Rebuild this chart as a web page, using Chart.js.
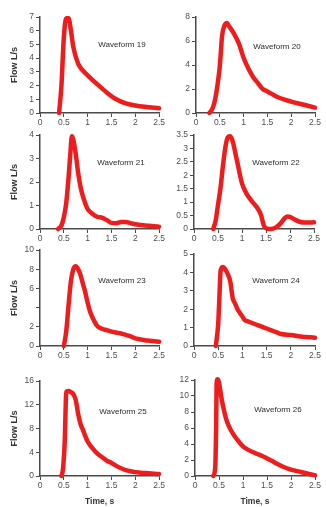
<!DOCTYPE html>
<html><head><meta charset="utf-8">
<script src="https://cdn.jsdelivr.net/npm/chart.js@4.4.1/dist/chart.umd.min.js"></script>
<style>
html,body{margin:0;padding:0;background:#fff;width:326px;height:507px;overflow:hidden;}
canvas{position:absolute;}
</style></head><body>
<script>
// ---- data ----
const xTicks = [0, 0.5, 1, 1.5, 2, 2.5];

const time19 = [0.40,0.45,0.50,0.55,0.60,0.65,0.70,0.80,0.90,1.00,1.20,1.40,1.60,1.80,2.00,2.20,2.50];
const flow19 = [0,   2.0, 5.5, 6.9, 6.9, 6.0, 4.8, 3.6, 3.1, 2.75,2.1, 1.5, 1.0, 0.7, 0.55,0.45,0.35];

const time20 = [0.28,0.35,0.40,0.45,0.50,0.55,0.60,0.65,0.70,0.80,0.90,1.00,1.10,1.20,1.30,1.40,1.50,1.70,2.00,2.20,2.50];
const flow20 = [0,   0.4, 1.1, 2.3, 3.9, 6.5, 7.3, 7.5, 7.2, 6.6, 5.8, 4.6, 3.7, 3.0, 2.5, 2.0, 1.8, 1.35,0.95,0.75,0.45];

const time21 = [0.38,0.45,0.50,0.55,0.60,0.64,0.67,0.70,0.75,0.80,0.85,0.90,1.00,1.10,1.20,1.30,1.40,1.50,1.60,1.70,1.80,1.90,2.00,2.20,2.50];
const flow21 = [0,   0.15,0.5, 1.1, 2.2, 3.3, 3.95,3.8, 3.2, 2.4, 1.8, 1.4, 0.85,0.65,0.52,0.48,0.38,0.26,0.25,0.3, 0.3, 0.25,0.2, 0.15,0.1];

const time22 = [0.40,0.45,0.50,0.55,0.60,0.65,0.70,0.75,0.80,0.90,1.00,1.10,1.20,1.30,1.35,1.40,1.45,1.50,1.60,1.70,1.80,1.90,1.95,2.00,2.10,2.20,2.30,2.50];
const flow22 = [0,   0.3, 0.9, 1.5, 2.3, 3.0, 3.4, 3.45,3.3, 2.5, 1.7, 1.3, 1.05,0.83,0.7, 0.5, 0.15,0.03,0.0, 0.05,0.2, 0.42,0.47,0.45,0.35,0.27,0.24,0.25];

const time23 = [0.50,0.55,0.60,0.65,0.70,0.75,0.80,0.85,0.90,0.95,1.00,1.05,1.10,1.20,1.30,1.40,1.50,1.60,1.70,1.80,1.90,2.00,2.10,2.20,2.30,2.50];
const flow23 = [0,   1.5, 4.3, 6.8, 8.0, 8.3, 8.0, 7.4, 6.5, 5.6, 4.5, 3.6, 3.0, 2.1, 1.8, 1.65,1.5, 1.4, 1.3, 1.15,1.0, 0.8, 0.7, 0.6, 0.55,0.45];

const time24 = [0.45,0.50,0.53,0.55,0.60,0.65,0.70,0.75,0.80,0.85,0.90,1.00,1.05,1.10,1.20,1.30,1.40,1.50,1.60,1.70,1.80,2.00,2.20,2.50];
const flow24 = [0,   1.2, 3.0, 4.1, 4.3, 4.15,3.9, 3.5, 2.6, 2.3, 2.0, 1.6, 1.4, 1.35,1.25,1.15,1.05,0.95,0.85,0.75,0.65,0.6, 0.52,0.45];

const time25 = [0.45,0.48,0.50,0.52,0.54,0.55,0.60,0.65,0.70,0.75,0.80,0.85,0.90,1.00,1.10,1.20,1.30,1.40,1.50,1.60,1.70,1.80,1.90,2.00,2.20,2.50];
const flow25 = [0,   1.0, 3.0, 6.0, 12.0,14.2,14.3,14.1,13.8,12.8,10.5,8.8, 7.8, 5.8, 4.7, 3.8, 3.2, 2.6, 2.2, 1.7, 1.3, 1.0, 0.8, 0.65,0.5, 0.35];

const time26 = [0.38,0.42,0.44,0.45,0.47,0.50,0.55,0.60,0.65,0.70,0.80,0.90,1.00,1.10,1.20,1.30,1.40,1.50,1.60,1.70,1.80,1.90,2.00,2.20,2.40,2.50];
const flow26 = [0,   1.0, 6.0, 11.5,12.1,11.7,9.8, 8.3, 7.1, 6.3, 5.2, 4.4, 3.7, 3.3, 3.0, 2.75,2.5, 2.2, 1.9, 1.55,1.25,1.0, 0.8, 0.5, 0.22,0.1];

const yTicks19 = [0,1,2,3,4,5,6,7];           const yLabels19 = ['0','1','2','3','4','5','6','7'];
const yTicks20 = [0,2,4,6,8];                 const yLabels20 = ['0','2','4','6','8'];
const yTicks21 = [0,1,2,3,4];                 const yLabels21 = ['0','1','2','3','4'];
const yTicks22 = [0,0.5,1,1.5,2,2.5,3,3.5];   const yLabels22 = ['0','0.5','1','1.5','2','2.5','3','3.5'];
const yTicks23 = [0,2,4,6,8,10];              const yLabels23 = ['0','2','','6','8','10'];
const yTicks24 = [0,1,2,3,4,5];               const yLabels24 = ['0','1','2','3','4','5'];
const yTicks25 = [0,4,8,12,16];               const yLabels25 = ['0','4','8','12','16'];
const yTicks26 = [0,2,4,6,8,10,12];           const yLabels26 = ['0','2','4','6','8','10','12'];

const names = ['Waveform 19','Waveform 20','Waveform 21','Waveform 22','Waveform 23','Waveform 24','Waveform 25','Waveform 26'];

// ---- layout ----
const panels = [
  {t:time19,f:flow19,yt:yTicks19,yl:yLabels19,area:[40,17,161,113],col:0,last:false,lab:[122,45]},
  {t:time20,f:flow20,yt:yTicks20,yl:yLabels20,area:[196,17,315,113],col:1,last:false,lab:[277,47]},
  {t:time21,f:flow21,yt:yTicks21,yl:yLabels21,area:[40,135,161,229],col:0,last:false,lab:[121,163]},
  {t:time22,f:flow22,yt:yTicks22,yl:yLabels22,area:[194,135,314,229],col:1,last:false,lab:[276,163]},
  {t:time23,f:flow23,yt:yTicks23,yl:yLabels23,area:[40,250,160,346],col:0,last:false,lab:[122,281]},
  {t:time24,f:flow24,yt:yTicks24,yl:yLabels24,area:[194,254,315,346],col:1,last:false,lab:[276,281]},
  {t:time25,f:flow25,yt:yTicks25,yl:yLabels25,area:[40,381,161,476],col:0,last:true,lab:[123,412]},
  {t:time26,f:flow26,yt:yTicks26,yl:yLabels26,area:[195,380,315,476],col:1,last:true,lab:[278,410]},
];

const AXIS = '#4a4a4a', TXT = '#505050', RED = '#ee1d1d';
const FAM = 'Liberation Sans, Arial, sans-serif';
const tickFont = {family:FAM, size:8.5};

const labelPlugin = {
  id:'wlabel',
  afterDraw(chart, args, opts){
    const c = chart.ctx;
    c.save();
    c.font = '8px ' + FAM;
    c.fillStyle = '#2a2a2a';
    c.textAlign = 'center';
    c.textBaseline = 'middle';
    c.fillText(opts.text, opts.x, opts.y);
    c.restore();
  }
};

panels.forEach((p, i) => {
  const cl = p.col === 0 ? 0 : 166;
  const cw = p.col === 0 ? 166 : 160;
  const [l, t, r, b] = p.area;
  const top = t - 12;
  const xH = p.last ? 31 : 18;
  const ch = b - top + xH;
  const cv = document.createElement('canvas');
  cv.width = cw; cv.height = ch;
  cv.style.left = cl + 'px'; cv.style.top = top + 'px';
  cv.style.width = cw + 'px'; cv.style.height = ch + 'px';
  document.body.appendChild(cv);
  const yW = l - cl;
  new Chart(cv, {
    type:'line',
    data:{datasets:[{
      data: p.t.map((x, k) => ({x, y:p.f[k]})),
      borderColor: RED, borderWidth: 4.5, pointRadius: 0,
      cubicInterpolationMode: 'monotone', clip: 8,
      borderCapStyle: 'round', borderJoinStyle: 'round', fill:false
    }]},
    options:{
      responsive:false, animation:false, devicePixelRatio:1,
      layout:{padding:{top:12, right: cw - (r - cl), left:0, bottom:0}},
      plugins:{legend:{display:false}, tooltip:{enabled:false},
        wlabel:{text:names[i], x:p.lab[0]-cl, y:p.lab[1]-top}},
      scales:{
        x:{type:'linear', min:0, max:2.5,
          afterBuildTicks: s => { s.ticks = xTicks.map(v => ({value:v})); },
          afterFit: s => { s.height = xH; },
          ticks:{font:tickFont, color:TXT, padding:1, maxRotation:0, autoSkip:false,
            callback: v => String(v)},
          grid:{display:true, drawOnChartArea:false, drawTicks:true, tickLength:4, color:AXIS, lineWidth:1},
          border:{display:true, color:AXIS, width:1.5},
          title:{display:p.last, text:'Time, s', color:'#333',
            font:{family:FAM, size:8.5, weight:'bold'}, padding:{top:2,bottom:0}}
        },
        y:{type:'linear', min:0, max:p.yt[p.yt.length-1],
          afterBuildTicks: s => { s.ticks = p.yt.map(v => ({value:v})); },
          afterFit: s => { s.width = yW; },
          ticks:{font:tickFont, color:TXT, padding:2, autoSkip:false,
            callback: (v) => { const k = p.yt.indexOf(v); return k >= 0 ? p.yl[k] : ''; }},
          grid:{display:true, drawOnChartArea:false, drawTicks:true, tickLength:4, color:AXIS, lineWidth:1},
          border:{display:true, color:AXIS, width:1.5},
          title:{display:p.col === 0, text:'Flow L/s', color:'#333',
            font:{family:FAM, size:9, weight:'bold'}, padding:{top:9,bottom:0}}
        }
      }
    },
    plugins:[labelPlugin]
  });
});
</script>
</body></html>
